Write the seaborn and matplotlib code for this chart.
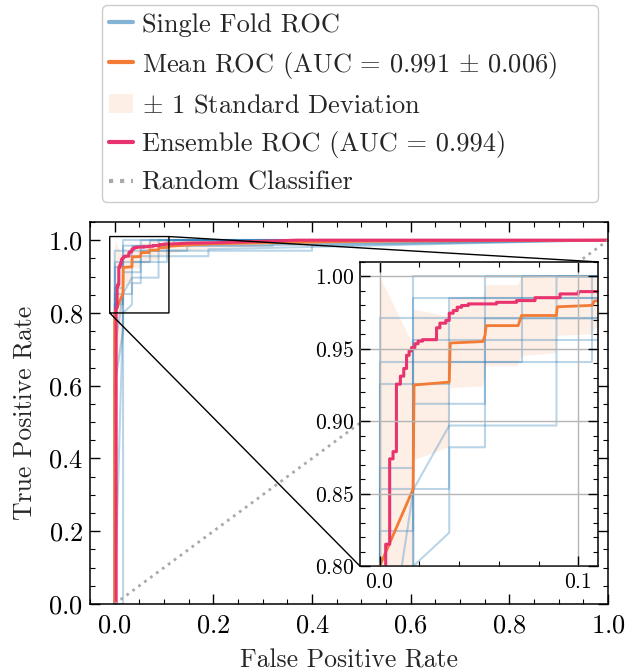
import numpy as np
import pandas as pd
import matplotlib
matplotlib.use("Agg")
import matplotlib.pyplot as plt
import seaborn as sns
from matplotlib.lines import Line2D
from matplotlib.patches import Patch
from matplotlib.ticker import MultipleLocator

# ---------------- data ----------------
fpr_f1 = [0.0, 0.0, 0.107, 0.107, 1.0]
tpr_f1 = [0.0, 0.941, 0.941, 1.0, 1.0]
fpr_f2 = [0.0, 0.0, 0.147, 0.147, 0.255, 1.0]
tpr_f2 = [0.0, 0.971, 0.971, 0.985, 0.985, 1.0]
fpr_f3 = [0.0, 0.017, 0.017, 0.19, 0.19, 1.0]
tpr_f3 = [0.0, 0.0, 0.956, 0.956, 0.975, 1.0]
fpr_f4 = [0.0, 0.0, 0.035, 0.035, 0.12, 0.12, 1.0]
tpr_f4 = [0.0, 0.853, 0.853, 0.985, 0.985, 1.0, 1.0]
fpr_f5 = [0.0, 0.0, 0.017, 0.017, 0.32, 0.32, 1.0]
tpr_f5 = [0.0, 0.824, 0.824, 0.985, 0.985, 0.99, 1.0]
fpr_f6 = [0.0, 0.0, 0.017, 0.017, 1.0]
tpr_f6 = [0.0, 0.868, 0.868, 1.0, 1.0]
fpr_f7 = [0.0, 0.017, 0.035, 0.035, 0.053, 0.053, 1.0]
tpr_f7 = [0.0, 0.80, 0.823, 0.882, 0.882, 1.0, 1.0]
fpr_f8 = [0.0, 0.0, 0.017, 0.035, 0.089, 0.089, 1.0]
tpr_f8 = [0.0, 0.70, 0.853, 0.897, 0.897, 1.0, 1.0]
fpr_f9 = [0.0, 0.0, 0.035, 0.035, 0.0714, 0.0714, 1.0]
tpr_f9 = [0.0, 0.926, 0.926, 0.941, 0.941, 1.0, 1.0]
fpr_f10 = [0.0, 0.0, 0.017, 0.017, 0.053, 0.053, 0.40, 0.40, 1.0]
tpr_f10 = [0.0, 0.60, 0.75, 0.912, 0.912, 0.971, 0.971, 0.985, 1.0]

mean_fpr = [0.0, 0.0, 0.0168, 0.0173, 0.035, 0.0355, 0.052, 0.053, 0.0536, 0.0697,
            0.0714, 0.089, 0.0894, 0.107, 0.108, 0.15, 0.2, 0.3, 0.4, 0.5, 0.6, 0.8, 1.0]
mean_tpr = [0.0, 0.800, 0.853, 0.925, 0.927, 0.954, 0.955, 0.959, 0.966, 0.966,
            0.973, 0.973, 0.979, 0.980, 0.983, 0.987, 0.990, 0.993, 0.995, 0.997, 0.998, 0.999, 1.0]
std_tpr = [0.0, 0.21, 0.100, 0.052, 0.045, 0.031, 0.031, 0.030, 0.028, 0.028,
           0.028, 0.026, 0.020, 0.020, 0.019, 0.015, 0.012, 0.009, 0.007, 0.005, 0.004, 0.002, 0.0]

ens_fpr = [0.0, 0.003, 0.003, 0.005, 0.005, 0.0067, 0.0067, 0.0084, 0.0084, 0.0104, 0.0104,
           0.0121, 0.0121, 0.0135, 0.0135, 0.0148, 0.0148, 0.0160, 0.0160, 0.0177, 0.0177,
           0.0193, 0.0193, 0.0215, 0.0215, 0.0286, 0.0286, 0.0303, 0.0303, 0.0333, 0.0333,
           0.0350, 0.0350, 0.0370, 0.0370, 0.0390, 0.0390, 0.0412, 0.0412, 0.0446, 0.0446,
           0.0588, 0.0588, 0.0689, 0.0689, 0.0782, 0.0782, 0.0908, 0.0908, 0.100, 0.100,
           0.115, 0.15, 0.20, 0.25, 0.30, 0.37, 1.0]
ens_tpr = [0.0, 0.0, 0.815, 0.815, 0.874, 0.874, 0.879, 0.879, 0.9256, 0.9256, 0.9311,
           0.9311, 0.9364, 0.9364, 0.9455, 0.9455, 0.9485, 0.9485, 0.9508, 0.9508, 0.9535,
           0.9535, 0.9553, 0.9553, 0.9563, 0.9563, 0.9645, 0.9645, 0.9677, 0.9677, 0.9696,
           0.9696, 0.9746, 0.9746, 0.9764, 0.9764, 0.9787, 0.9787, 0.9799, 0.9799, 0.9810,
           0.9810, 0.9821, 0.9821, 0.9833, 0.9833, 0.9853, 0.9853, 0.9879, 0.9879, 0.9895,
           0.9895, 0.992, 0.993, 0.995, 0.997, 1.0, 1.0]

chance = [0.0, 1.0]

labels = ["Single Fold ROC",
          r"Mean ROC (AUC = 0.991 $\pm$ 0.006)",
          r"$\pm$ 1 Standard Deviation",
          "Ensemble ROC (AUC = 0.994)",
          "Random Classifier"]

BLUE = "#1f77b4"
ORANGE = "#f47b33"
PINK = "#e8336e"
GREY = "#aaaaaa"

folds_fpr = [fpr_f1, fpr_f2, fpr_f3, fpr_f4, fpr_f5, fpr_f6, fpr_f7, fpr_f8, fpr_f9, fpr_f10]
folds_tpr = [tpr_f1, tpr_f2, tpr_f3, tpr_f4, tpr_f5, tpr_f6, tpr_f7, tpr_f8, tpr_f9, tpr_f10]
rows = []
for k, (fx, fy) in enumerate(zip(folds_fpr, folds_tpr)):
    for i, (a, b) in enumerate(zip(fx, fy)):
        rows.append({"fold": k, "order": i, "fpr": a, "tpr": b})
folds_df = pd.DataFrame(rows)
mean_df = pd.DataFrame({"fpr": mean_fpr, "tpr": mean_tpr, "std": std_tpr})
mean_df["upper"] = np.minimum(mean_df["tpr"] + mean_df["std"], 1.0)
mean_df["lower"] = np.maximum(mean_df["tpr"] - mean_df["std"], 0.0)
ens_df = pd.DataFrame({"fpr": ens_fpr, "tpr": ens_tpr})

# ---------------- style ----------------
sns.set_theme(style="ticks")
plt.rcParams.update({
    "font.family": ["cmr10"],
    "mathtext.fontset": "cm",
    "axes.formatter.use_mathtext": True,
    "font.size": 19,
    "axes.labelsize": 18.5,
    "xtick.labelsize": 19,
    "ytick.labelsize": 19,
    "axes.edgecolor": "black",
    "axes.linewidth": 1.1,
    "xtick.color": "black",
    "ytick.color": "black",
    "xtick.direction": "in",
    "ytick.direction": "in",
    "xtick.top": True,
    "ytick.right": True,
    "xtick.minor.visible": True,
    "ytick.minor.visible": True,
    "xtick.major.size": 7,
    "ytick.major.size": 7,
    "xtick.minor.size": 3.5,
    "ytick.minor.size": 3.5,
    "xtick.major.width": 1.0,
    "ytick.major.width": 1.0,
    "xtick.minor.width": 0.8,
    "ytick.minor.width": 0.8,
    "xtick.major.pad": 7,
    "ytick.major.pad": 5,
})


def draw_curves(a):
    sns.lineplot(data=folds_df, x="fpr", y="tpr", units="fold", estimator=None,
                 sort=False, color=BLUE, alpha=0.3, lw=1.5, ax=a, legend=False)
    a.fill_between(mean_df["fpr"], mean_df["lower"], mean_df["upper"],
                   color=ORANGE, alpha=0.12, lw=0)
    sns.lineplot(data=mean_df, x="fpr", y="tpr", sort=False, estimator=None,
                 color=ORANGE, lw=2.0, ax=a, legend=False)
    sns.lineplot(data=ens_df, x="fpr", y="tpr", sort=False, estimator=None,
                 color=PINK, lw=2.2, ax=a, legend=False)


fig = plt.figure(figsize=(6.27, 6.72), dpi=100)
ax = fig.add_axes([90 / 627, 1 - 604 / 672, 518 / 627, 382 / 672])

draw_curves(ax)
ax.plot(chance, chance, ls=":", color=GREY, lw=2.0)
ax.set_xlim(-0.05, 1.0)
ax.set_ylim(0.0, 1.05)
ax.xaxis.set_major_locator(MultipleLocator(0.2))
ax.xaxis.set_minor_locator(MultipleLocator(0.05))
ax.yaxis.set_major_locator(MultipleLocator(0.2))
ax.yaxis.set_minor_locator(MultipleLocator(0.05))
ax.set_xlabel("False Positive Rate", labelpad=8)
ax.set_ylabel("True Positive Rate", labelpad=8)

axins = ax.inset_axes([0.521, 0.0995, 0.46, 0.796])
axins.set_facecolor("white")
draw_curves(axins)
axins.set_xlim(-0.01, 0.11)
axins.set_ylim(0.80, 1.01)
axins.xaxis.set_major_locator(MultipleLocator(0.1))
axins.xaxis.set_minor_locator(MultipleLocator(0.02))
axins.yaxis.set_major_locator(MultipleLocator(0.05))
axins.yaxis.set_minor_locator(MultipleLocator(0.01))
axins.grid(True, which="major", color="#b5b5b5", lw=1.0)
axins.set_axisbelow(False)
axins.set_xlabel("")
axins.set_ylabel("")
axins.tick_params(labelsize=15.5)
axins.tick_params(axis="x", pad=5)
axins.tick_params(axis="y", pad=4)
ax.indicate_inset_zoom(axins, edgecolor="black", alpha=1.0, lw=1.0)

handles = [Line2D([], [], color=BLUE, alpha=0.55, lw=3),
           Line2D([], [], color=ORANGE, lw=3),
           Patch(facecolor=ORANGE, alpha=0.12, edgecolor="none"),
           Line2D([], [], color=PINK, lw=3),
           Line2D([], [], color=GREY, ls=":", lw=3)]
ax.legend(handles=handles, labels=labels, loc="lower left", mode="expand",
          bbox_to_anchor=(12 / 518, 1.052, 496 / 518, 0.3), borderaxespad=0,
          frameon=True, fancybox=True, edgecolor="#cccccc", framealpha=1.0,
          handlelength=0.88, handleheight=0.7, handletextpad=0.35,
          labelspacing=0.5, borderpad=0.28, fontsize=19)

fig.savefig("out.png", dpi=100)
